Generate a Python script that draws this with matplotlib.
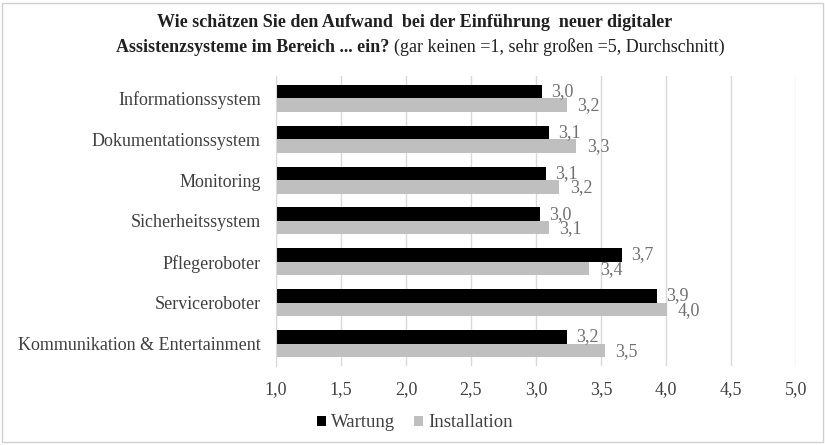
import matplotlib
matplotlib.use("Agg")
import matplotlib.pyplot as plt
from matplotlib.patches import Rectangle
import numpy as np

categories = ["Informationssystem", "Dokumentationssystem", "Monitoring",
              "Sicherheitssystem", "Pflegeroboter", "Serviceroboter",
              "Kommunikation & Entertainment"]
wartung = [3.05, 3.10, 3.08, 3.03, 3.66, 3.93, 3.24]
installation = [3.24, 3.31, 3.18, 3.10, 3.41, 4.01, 3.53]
wartung_labels = ["3,0", "3,1", "3,1", "3,0", "3,7", "3,9", "3,2"]
installation_labels = ["3,2", "3,3", "3,2", "3,1", "3,4", "4,0", "3,5"]
xticks = [1.0, 1.5, 2.0, 2.5, 3.0, 3.5, 4.0, 4.5, 5.0]

plt.rcParams["font.family"] = ["Liberation Serif", "DejaVu Serif"]
TXT = "#404040"

fig = plt.figure(figsize=(8.25, 4.45), dpi=100)
fig.patches.append(Rectangle((0.003, 0.006), 0.994, 0.988, transform=fig.transFigure,
                             fill=False, edgecolor="#d0d0d0", linewidth=1))
ax = fig.add_axes([0.3345, 0.1775, 0.6303, 0.652])

y = np.arange(len(categories))
h = 0.33
ax.barh(y - h / 2, [v - 1 for v in wartung], left=1, height=h,
        color="black", label="Wartung")
ax.barh(y + h / 2, [v - 1 for v in installation], left=1, height=h,
        color="#bfbfbf", label="Installation")

for i in range(len(categories)):
    ax.text(wartung[i] + 0.07, y[i] - h / 2, wartung_labels[i],
            ha="left", va="center", fontsize=13, color="#707070")
    ax.text(installation[i] + 0.08, y[i] + h / 2 + 0.02, installation_labels[i],
            ha="left", va="center", fontsize=13, color="#707070")

ax.set_xlim(1.0, 5.0)
ax.set_ylim(len(categories) - 0.45, -0.55)
ax.set_xticks(xticks)
ax.set_xticklabels([f"{t:.1f}".replace(".", ",") for t in xticks])
ax.set_yticks(y)
ax.set_yticklabels(categories)
ax.tick_params(axis="both", length=0, labelsize=13, colors=TXT)
ax.tick_params(axis="x", pad=11)
ax.tick_params(axis="y", pad=11)
ax.xaxis.grid(True, color="#d9d9d9", linewidth=1)
ax.set_axisbelow(True)
for s in ["top", "right", "bottom"]:
    ax.spines[s].set_visible(False)
ax.spines["left"].set_color("#d9d9d9")

fig.text(0.502, 0.95, "Wie schätzen Sie den Aufwand  bei der Einführung  neuer digitaler",
         ha="center", va="center", fontsize=13, fontweight="bold", color="#202020")
fig.text(0.472, 0.894, "Assistenzsysteme im Bereich ... ein?", ha="right", va="center",
         fontsize=13, fontweight="bold", color="#202020")
fig.text(0.477, 0.894, "(gar keinen =1, sehr großen =5, Durchschnitt)", ha="left",
         va="center", fontsize=13, color="#202020")

fig.legend(loc="center", bbox_to_anchor=(0.503, 0.05), ncol=2, frameon=False,
           fontsize=13.5, handlelength=0.45, handleheight=0.45, handletextpad=0.3,
           columnspacing=1.0, labelcolor=TXT)

fig.savefig("out.png", dpi=100, facecolor="white")
